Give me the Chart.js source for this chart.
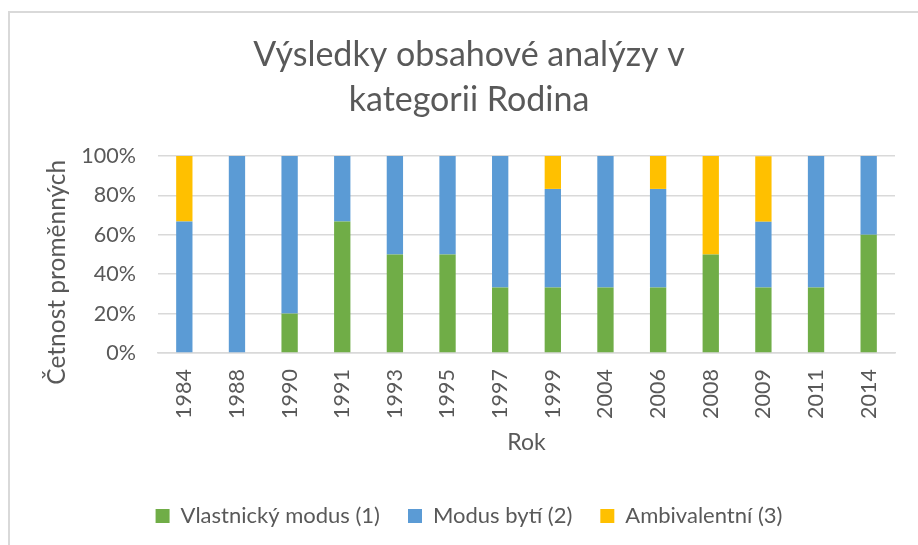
<!DOCTYPE html>
<html>
<head>
<meta charset="utf-8">
<script src="https://cdn.jsdelivr.net/npm/chart.js@4.4.1/dist/chart.umd.min.js"></script>
<style>
  html, body { margin: 0; padding: 0; background: #ffffff; overflow: hidden; width: 918px; height: 545px; }
  #frame { position: absolute; left: 8px; top: 11px; width: 2000px; height: 2000px;
           border-left: 2px solid #d9d9d9; border-top: 2px solid #d9d9d9; }
  #c { position: absolute; left: 0; top: 0; }
</style>
</head>
<body>
<div id="frame"></div>
<canvas id="c" width="936" height="545"></canvas>
<script>
// ---- data ----
const chartTitle = ['Výsledky obsahové analýzy v', 'kategorii Rodina'];
const years = ['1984','1988','1990','1991','1993','1995','1997','1999','2004','2006','2008','2009','2011','2014'];
const vlastnicky = [0, 0, 20, 66.7, 50, 50, 33.3, 33.3, 33.3, 33.3, 50, 33.3, 33.3, 60];
const modusByti  = [66.7, 100, 80, 33.3, 50, 50, 66.7, 50, 66.7, 50, 0, 33.3, 66.7, 40];
const ambivalent = [33.3, 0, 0, 0, 0, 0, 0, 16.7, 0, 16.7, 50, 33.3, 0, 0];
const seriesNames = ['Vlastnický modus (1)', 'Modus bytí (2)', 'Ambivalentní (3)'];
const yTicks = [0, 20, 40, 60, 80, 100];
const xTitle = 'Rok';
const yTitle = 'Četnost proměnných';

const TEXT = '#595959';
const GRID = '#d9d9d9';
const FONT = 'Lato';

const yTitlePlugin = {
  id: 'yTitle',
  afterDraw(chart) {
    const ctx = chart.ctx;
    const area = chart.chartArea;
    const cy = area.top + (area.bottom - area.top) * 0.59;
    ctx.save();
    ctx.font = '24.5px ' + FONT;
    ctx.fillStyle = TEXT;
    ctx.translate(57, cy);
    ctx.rotate(-Math.PI / 2);
    ctx.textAlign = 'center';
    ctx.textBaseline = 'middle';
    ctx.fillText(yTitle, 0, 0);
    ctx.restore();
  }
};

new Chart(document.getElementById('c'), {
  type: 'bar',
  data: {
    labels: years,
    datasets: [
      { label: seriesNames[0], data: vlastnicky, backgroundColor: '#70ad47' },
      { label: seriesNames[1], data: modusByti,  backgroundColor: '#5b9bd5' },
      { label: seriesNames[2], data: ambivalent, backgroundColor: '#ffc000' }
    ]
  },
  options: {
    responsive: false,
    animation: false,
    devicePixelRatio: 1,
    datasets: { bar: { categoryPercentage: 0.31, barPercentage: 1.0 } },
    layout: { padding: { left: 43, right: 41, top: 0, bottom: 8 } },
    plugins: {
      title: {
        display: true,
        text: chartTitle,
        color: TEXT,
        font: { family: FONT, size: 34, weight: 'normal', lineHeight: 45 / 34 },
        padding: { top: 32.5, bottom: 33.5 }
      },
      legend: {
        position: 'bottom',
        labels: {
          color: TEXT,
          font: { family: FONT, size: 22 },
          boxWidth: 14, boxHeight: 14,
          padding: 28
        }
      },
      tooltip: { enabled: false }
    },
    scales: {
      x: {
        stacked: true,
        grid: { display: false, drawTicks: false },
        border: { display: true, color: GRID, width: 1.5 },
        ticks: { color: TEXT, font: { family: FONT, size: 21.5 }, minRotation: 90, maxRotation: 90, padding: 16, autoSkip: false },
        title: { display: true, text: xTitle, color: TEXT, font: { family: FONT, size: 23, lineHeight: 1.2 }, padding: { top: 0, bottom: 21 } },
        afterFit(s) { s.height = 124; }
      },
      y: {
        stacked: true,
        min: 0, max: 100,
        afterBuildTicks(s) { s.ticks = yTicks.map(v => ({ value: v })); },
        grid: { color: GRID, lineWidth: 1.5, drawTicks: false },
        border: { display: false },
        ticks: { color: TEXT, font: { family: FONT, size: 21.5 }, padding: 22, callback: v => v + '%' },
        afterFit(s) { s.width = 115; }
      }
    }
  },
  plugins: [yTitlePlugin]
});
</script>
</body>
</html>
